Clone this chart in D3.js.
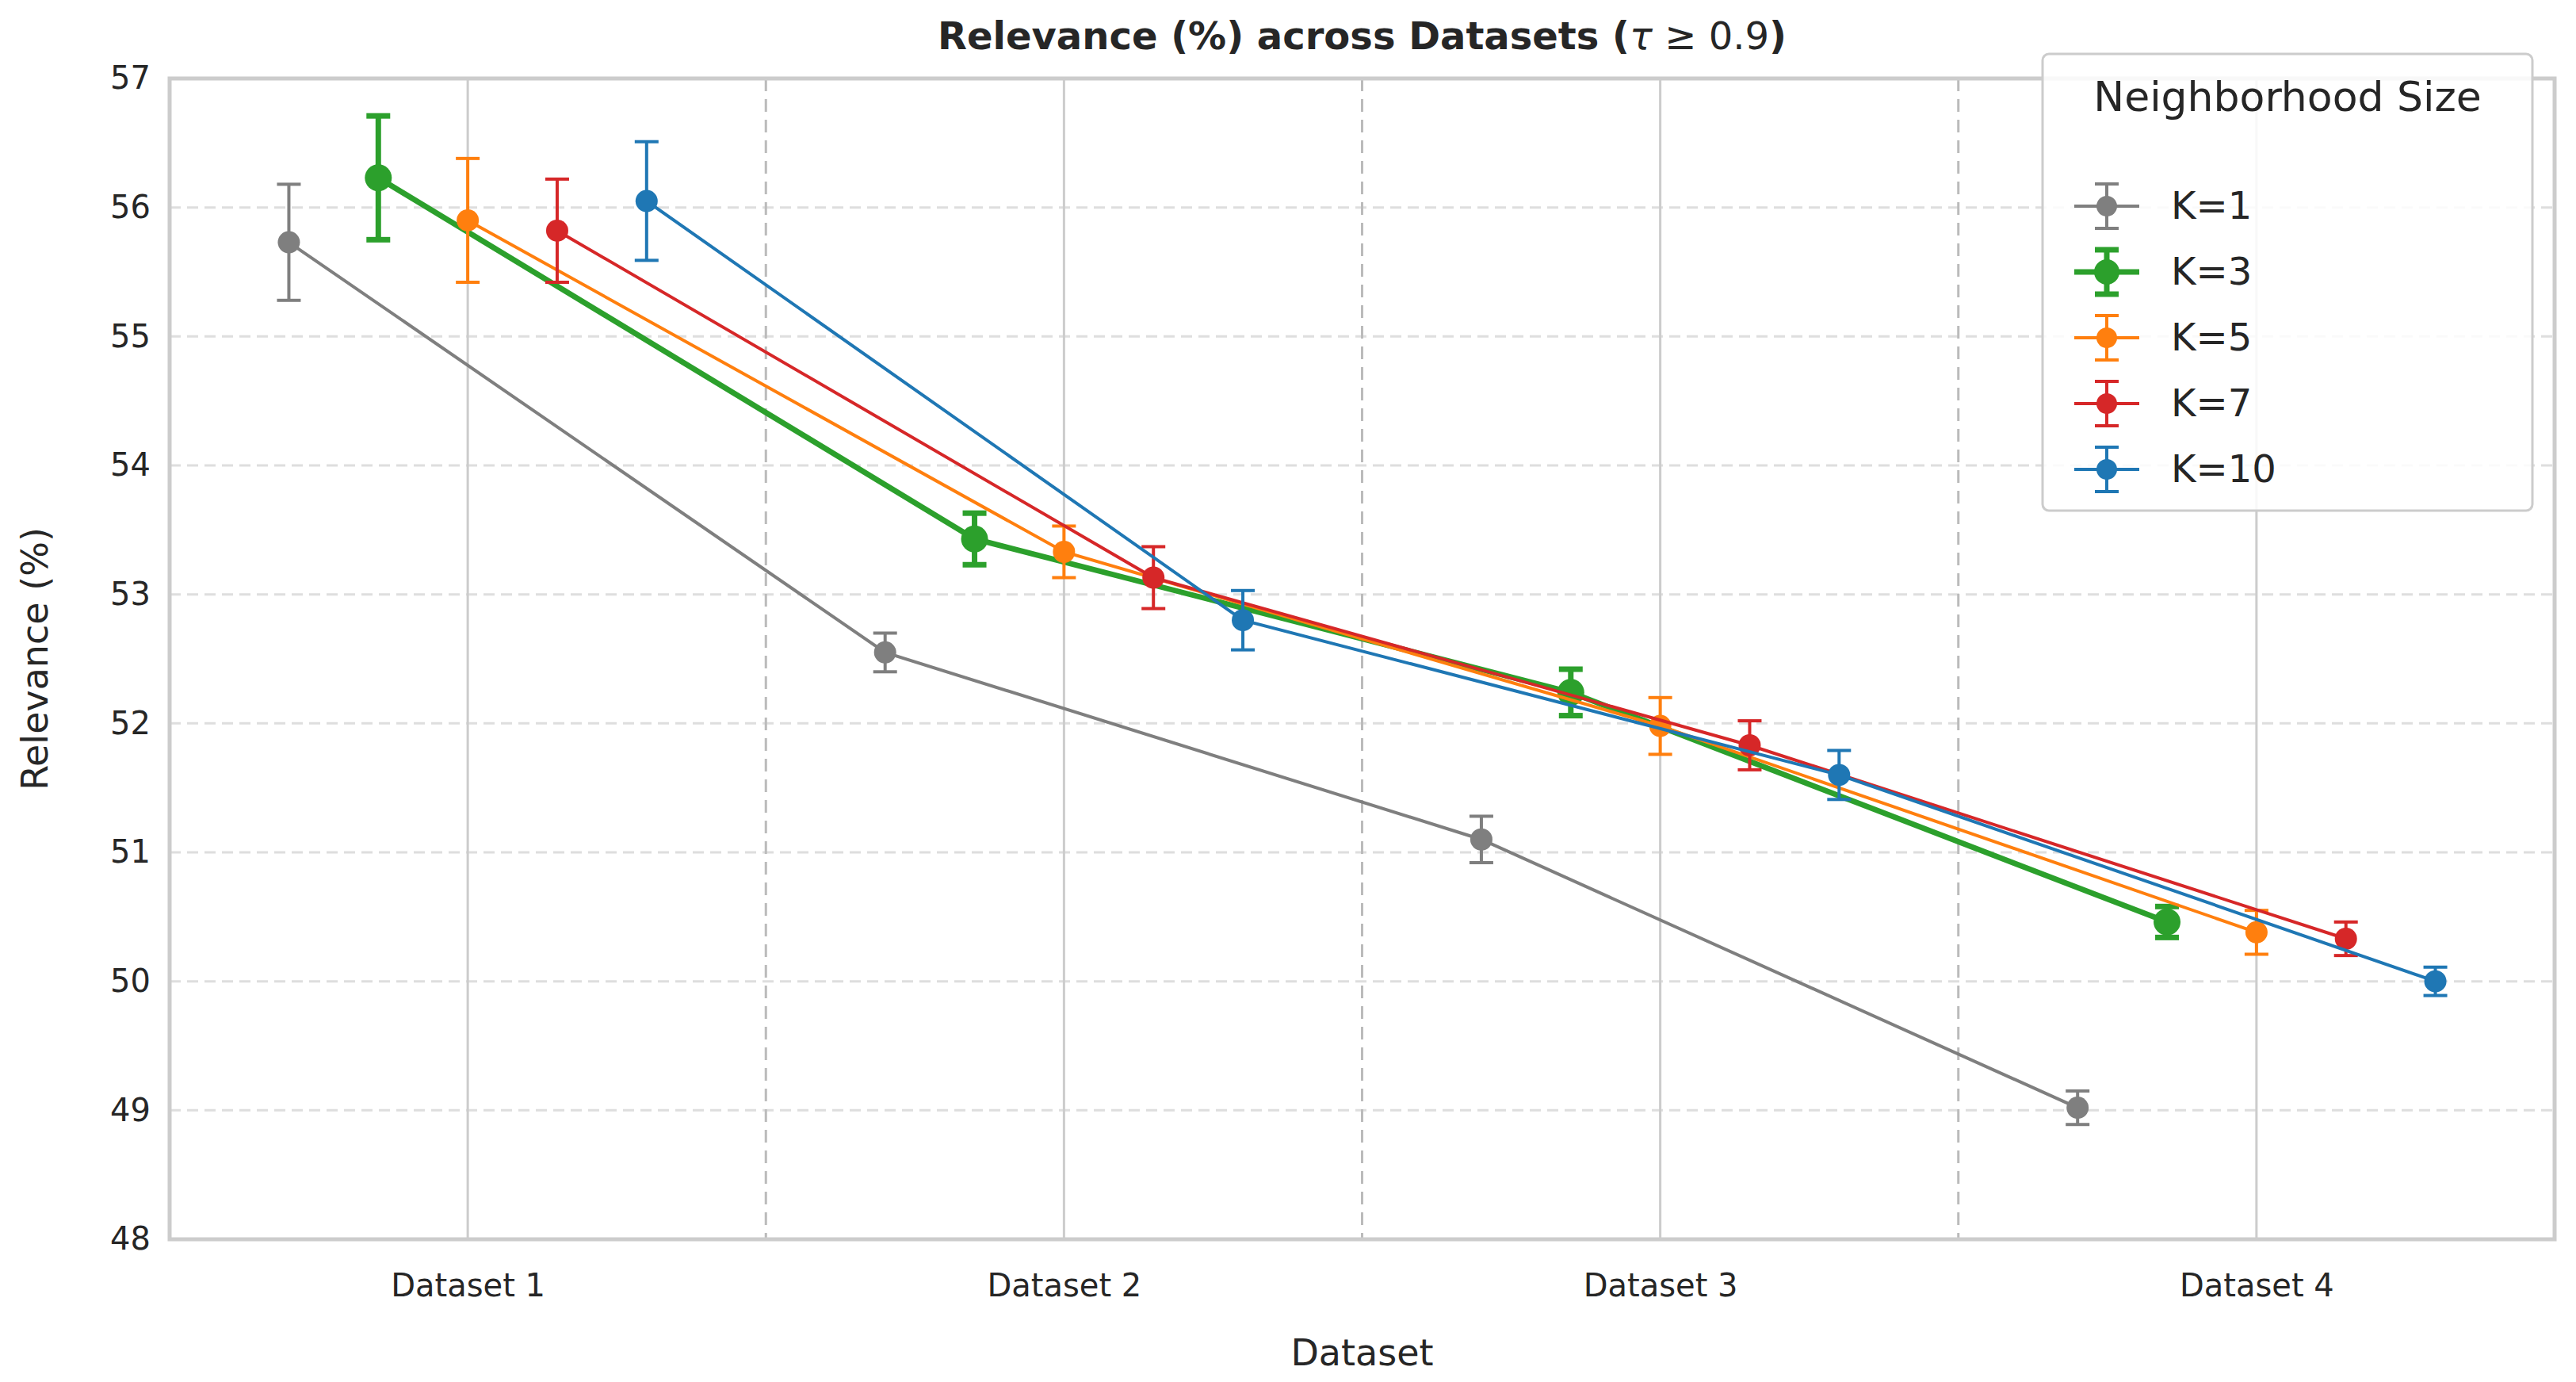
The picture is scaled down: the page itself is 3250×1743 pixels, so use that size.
<!DOCTYPE html>
<html>
<head>
<meta charset="utf-8">
<script src="https://cdn.jsdelivr.net/npm/d3@7"></script>
<style>
  body { margin: 0; background: #fff; }
  text { font-family: "DejaVu Sans", sans-serif; fill: #262626; }
</style>
</head>
<body>
<svg id="chart" width="3250" height="1743"></svg>
<script>
const datasets = ["Dataset 1", "Dataset 2", "Dataset 3", "Dataset 4"];
const kLabels = ["K=1", "K=3", "K=5", "K=7", "K=10"];
const colors = ["#7f7f7f", "#2ca02c", "#ff7f0e", "#d62728", "#1f77b4"];
const offsets = [-0.3, -0.15, 0, 0.15, 0.3];
// mean per dataset, one array per K
const means = [
  [55.73, 52.55, 51.10, 49.02],
  [56.23, 53.43, 52.24, 50.46],
  [55.90, 53.33, 51.98, 50.38],
  [55.82, 53.13, 51.83, 50.33],
  [56.05, 52.80, 51.60, 50.00],
];
const errs = [
  [0.45, 0.15, 0.18, 0.13],
  [0.48, 0.20, 0.18, 0.12],
  [0.48, 0.20, 0.22, 0.17],
  [0.40, 0.24, 0.19, 0.13],
  [0.46, 0.23, 0.19, 0.11],
];
const yTicks = [48, 49, 50, 51, 52, 53, 54, 55, 56, 57];

const svg = d3.select("#chart");
const mLeft = 214, mRight = 3223, mTop = 99, mBottom = 1563;

const x = d3.scaleLinear().domain([-0.5, 3.5]).range([mLeft, mRight]);
const y = d3.scaleLinear().domain([48, 57]).range([mBottom, mTop]);

// grid
const grid = svg.append("g");
grid.selectAll(".hg").data(yTicks.slice(1, -1)).join("line")
  .attr("x1", mLeft).attr("x2", mRight)
  .attr("y1", d => y(d)).attr("y2", d => y(d))
  .attr("stroke", "#dedede").attr("stroke-width", 3).attr("stroke-dasharray", "14,8");
grid.selectAll(".vg").data(d3.range(4)).join("line")
  .attr("x1", d => x(d)).attr("x2", d => x(d))
  .attr("y1", mTop).attr("y2", mBottom)
  .attr("stroke", "#cccccc").attr("stroke-width", 3);
grid.selectAll(".vs").data([0.5, 1.5, 2.5]).join("line")
  .attr("x1", d => x(d)).attr("x2", d => x(d))
  .attr("y1", mTop).attr("y2", mBottom)
  .attr("stroke", "#bbbbbb").attr("stroke-width", 3).attr("stroke-dasharray", "16,10");

// axes ticks
const yAxis = svg.append("g").attr("transform", `translate(${mLeft},0)`)
  .call(d3.axisLeft(y).tickValues(yTicks).tickSize(0).tickPadding(24));
yAxis.select(".domain").remove();
yAxis.selectAll("text").attr("font-size", 40).style("fill", "#262626");

const xAxis = svg.append("g").attr("transform", `translate(0,${mBottom})`)
  .call(d3.axisBottom(x).tickValues(d3.range(4)).tickFormat(i => datasets[i]).tickSize(0).tickPadding(44));
xAxis.select(".domain").remove();
xAxis.selectAll("text").attr("font-size", 40).style("fill", "#262626");

// series
const line = d3.line().x(d => x(d.i)).y(d => y(d.v));
kLabels.forEach((k, s) => {
  const pts = means[s].map((v, i) => ({ i: i + offsets[s], v, e: errs[s][i] }));
  const lw = s === 1 ? 7 : 4;
  const g = svg.append("g");
  g.append("path").datum(pts).attr("d", line)
    .attr("fill", "none").attr("stroke", colors[s]).attr("stroke-width", lw);
  g.selectAll(".eb").data(pts).join("line")
    .attr("x1", d => x(d.i)).attr("x2", d => x(d.i))
    .attr("y1", d => y(d.v - d.e)).attr("y2", d => y(d.v + d.e))
    .attr("stroke", colors[s]).attr("stroke-width", lw);
  [-1, 1].forEach(sign => {
    g.append("g").selectAll("line").data(pts).join("line")
      .attr("x1", d => x(d.i) - 15).attr("x2", d => x(d.i) + 15)
      .attr("y1", d => y(d.v + sign * d.e))
      .attr("y2", d => y(d.v + sign * d.e))
      .attr("stroke", colors[s]).attr("stroke-width", lw);
  });
  g.selectAll("circle").data(pts).join("circle")
    .attr("cx", d => x(d.i)).attr("cy", d => y(d.v))
    .attr("r", s === 1 ? 17 : 14).attr("fill", colors[s]);
});

// spines
svg.append("rect").attr("x", mLeft).attr("y", mTop)
  .attr("width", mRight - mLeft).attr("height", mBottom - mTop)
  .attr("fill", "none").attr("stroke", "#cccccc").attr("stroke-width", 5);

// title and labels
const title = svg.append("text").attr("x", (mLeft + mRight) / 2).attr("y", 62)
  .attr("text-anchor", "middle").attr("font-size", 48).attr("font-weight", "bold");
title.append("tspan").text("Relevance (%) across Datasets (");
title.append("tspan").attr("font-style", "italic").attr("font-weight", "normal").text("τ");
title.append("tspan").attr("font-weight", "normal").text(" ≥ 0.9");
title.append("tspan").text(")");

svg.append("text").attr("x", (mLeft + mRight) / 2).attr("y", 1722)
  .attr("text-anchor", "middle").attr("font-size", 46).text("Dataset");
svg.append("text").attr("transform", `translate(60,${(mTop + mBottom) / 2}) rotate(-90)`)
  .attr("text-anchor", "middle").attr("font-size", 46).text("Relevance (%)");

// legend
const lg = svg.append("g").attr("transform", "translate(2577,68)");
lg.append("rect").attr("width", 618).attr("height", 576).attr("rx", 8)
  .attr("fill", "#fff").attr("fill-opacity", 0.85).attr("stroke", "#cccccc").attr("stroke-width", 3);
lg.append("text").attr("x", 309).attr("y", 72).attr("text-anchor", "middle")
  .attr("font-size", 52).text("Neighborhood Size");
kLabels.forEach((k, s) => {
  const cy = 192 + s * 83, lw = s === 1 ? 7 : 4;
  const row = lg.append("g");
  row.append("line").attr("x1", 40).attr("x2", 122).attr("y1", cy).attr("y2", cy)
    .attr("stroke", colors[s]).attr("stroke-width", lw);
  row.append("line").attr("x1", 81).attr("x2", 81).attr("y1", cy - 28).attr("y2", cy + 28)
    .attr("stroke", colors[s]).attr("stroke-width", lw);
  [-28, 28].forEach(o => row.append("line").attr("x1", 66).attr("x2", 96)
    .attr("y1", cy + o).attr("y2", cy + o).attr("stroke", colors[s]).attr("stroke-width", lw));
  row.append("circle").attr("cx", 81).attr("cy", cy).attr("r", s === 1 ? 16 : 13).attr("fill", colors[s]);
  row.append("text").attr("x", 162).attr("y", cy + 16).attr("font-size", 48).text(k);
});
</script>
</body>
</html>
